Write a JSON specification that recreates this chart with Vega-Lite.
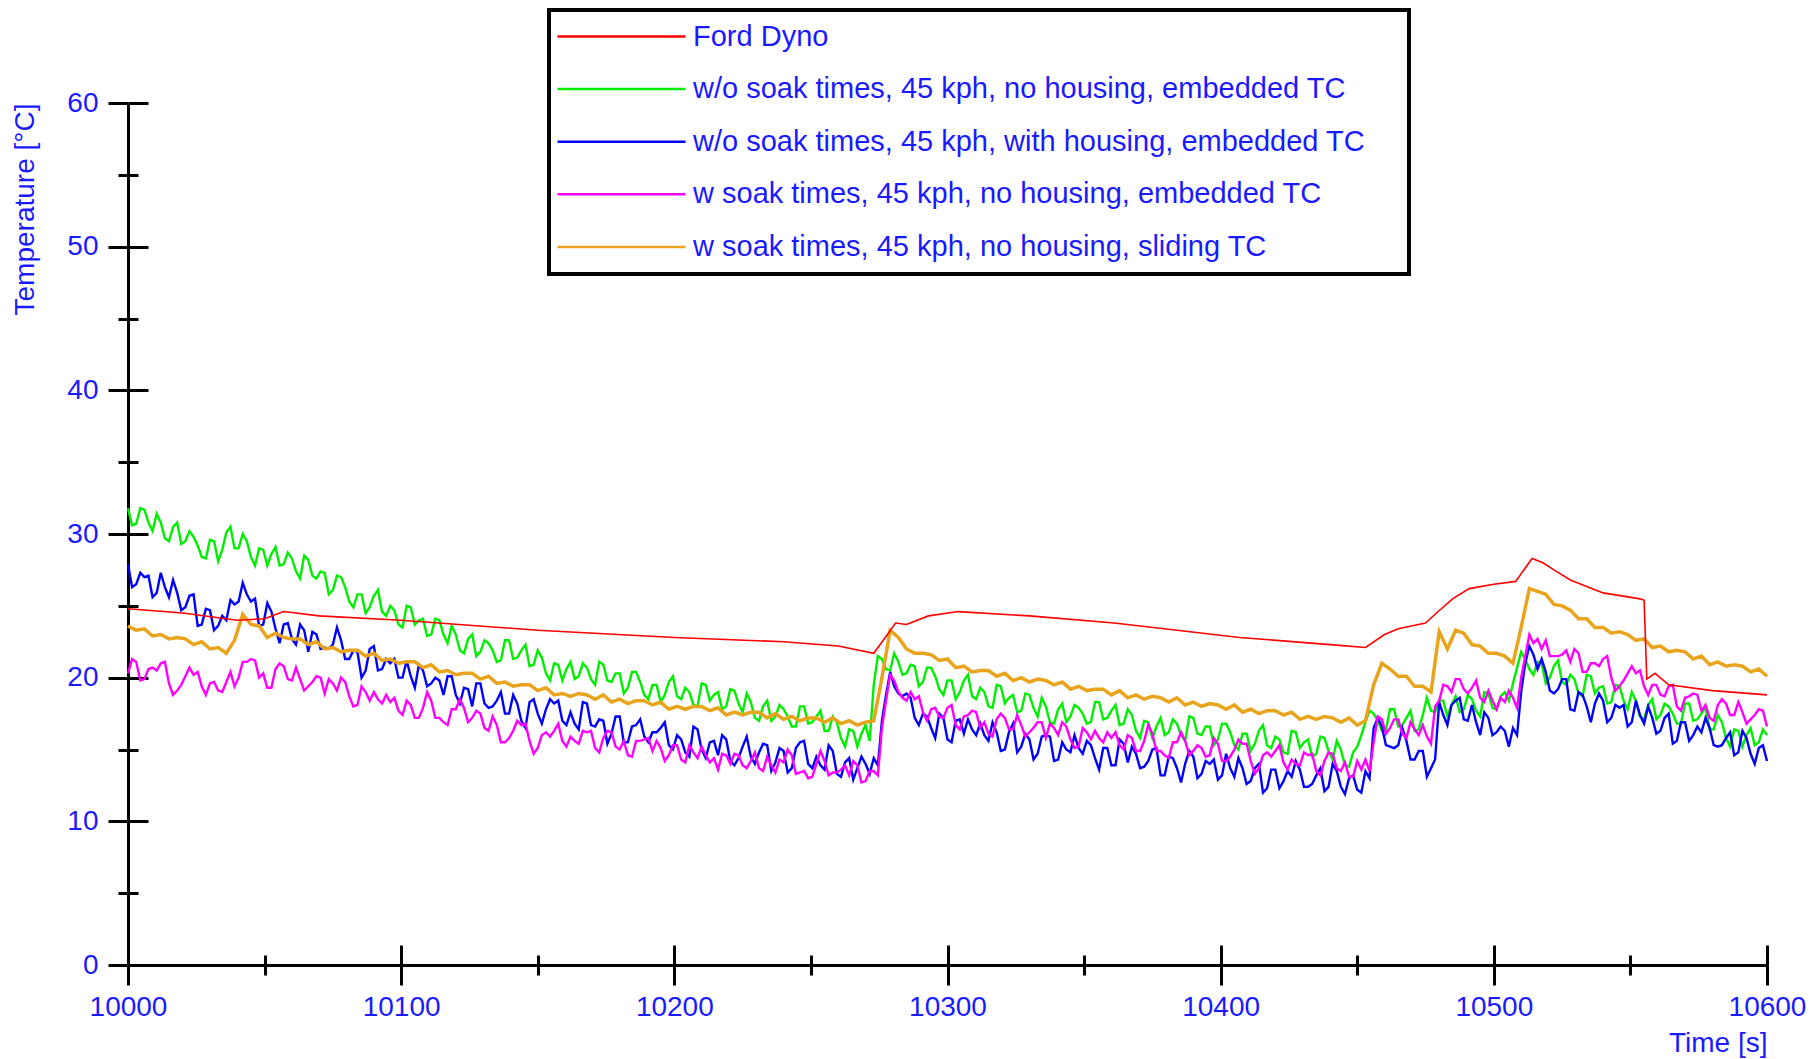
{
"$schema":"https://vega.github.io/schema/vega-lite/v6.json",
"width":1639,"height":862,
"autosize":{"type":"none"},
"padding":{"left":128,"top":103,"right":47,"bottom":94},
"background":"white",
"config":{"font":"Liberation Sans","view":{"stroke":null},"legend":{"strokeWidth":4,"strokeColor":"black","fillColor":"white","cornerRadius":0}},
"datasets":{
"noisy":[
{"t":10000,"g":31.8,"b":27.9,"m":20.3,"o":23.6},{"t":10003,"g":30.7,"b":26.5,"m":21.1,"o":23.3},{"t":10006,"g":31.7,"b":27.0,"m":19.9,"o":23.4},{"t":10009,"g":30.2,"b":25.6,"m":20.7,"o":22.9},{"t":10012,"g":30.8,"b":27.3,"m":21.0,"o":23.0},{"t":10015,"g":29.5,"b":25.6,"m":19.6,"o":22.7},{"t":10018,"g":30.8,"b":25.9,"m":19.1,"o":22.8},{"t":10021,"g":29.5,"b":24.9,"m":20.1,"o":22.7},{"t":10024,"g":29.8,"b":25.8,"m":20.2,"o":22.3},{"t":10027,"g":28.4,"b":23.7,"m":19.4,"o":22.5},
{"t":10030,"g":29.6,"b":24.7,"m":19.6,"o":22.0},{"t":10033,"g":28.1,"b":23.6,"m":19.1,"o":22.1},{"t":10036,"g":30.1,"b":24.0,"m":19.7,"o":21.7},{"t":10039,"g":29.0,"b":25.1,"m":19.4,"o":22.6},{"t":10042,"g":30.0,"b":26.6,"m":21.1,"o":24.4},{"t":10045,"g":28.4,"b":25.3,"m":21.3,"o":23.7},{"t":10048,"g":29.0,"b":23.6,"m":20.0,"o":23.6},{"t":10051,"g":27.8,"b":25.2,"m":19.3,"o":22.8},{"t":10054,"g":29.1,"b":23.4,"m":20.6,"o":23.1},{"t":10057,"g":27.9,"b":23.7,"m":20.8,"o":22.8},
{"t":10060,"g":28.3,"b":22.7,"m":19.8,"o":22.7},{"t":10063,"g":26.9,"b":23.7,"m":19.9,"o":22.7},{"t":10066,"g":28.2,"b":21.8,"m":19.4,"o":22.3},{"t":10069,"g":26.9,"b":23.0,"m":20.1,"o":22.5},{"t":10072,"g":27.3,"b":22.1,"m":18.9,"o":22.0},{"t":10075,"g":26.1,"b":22.3,"m":19.6,"o":22.1},{"t":10078,"g":27.0,"b":22.6,"m":20.0,"o":21.8},{"t":10081,"g":25.3,"b":21.3,"m":18.7,"o":21.9},{"t":10084,"g":25.8,"b":21.8,"m":18.1,"o":21.9},{"t":10087,"g":24.5,"b":20.5,"m":19.0,"o":21.5},
{"t":10090,"g":25.7,"b":22.2,"m":19.0,"o":21.7},{"t":10093,"g":24.6,"b":20.6,"m":18.2,"o":21.2},{"t":10096,"g":25.0,"b":21.0,"m":18.3,"o":21.3},{"t":10099,"g":23.7,"b":20.0,"m":17.7,"o":21.0},{"t":10102,"g":25.0,"b":21.2,"m":18.4,"o":21.1},{"t":10105,"g":23.7,"b":19.3,"m":17.2,"o":21.1},{"t":10108,"g":24.1,"b":20.5,"m":17.9,"o":20.7},{"t":10111,"g":23.0,"b":19.6,"m":18.4,"o":20.9},{"t":10114,"g":24.0,"b":19.8,"m":17.2,"o":20.4},{"t":10117,"g":22.4,"b":20.1,"m":16.7,"o":20.5},
{"t":10120,"g":23.0,"b":18.8,"m":17.8,"o":20.2},{"t":10123,"g":21.7,"b":19.3,"m":17.9,"o":20.3},{"t":10126,"g":23.0,"b":18.0,"m":17.2,"o":20.3},{"t":10129,"g":21.8,"b":19.6,"m":17.5,"o":19.9},{"t":10132,"g":22.4,"b":17.9,"m":16.3,"o":20.1},{"t":10135,"g":21.1,"b":18.4,"m":16.7,"o":19.6},{"t":10138,"g":22.6,"b":17.5,"m":15.5,"o":19.7},{"t":10141,"g":21.3,"b":18.8,"m":16.3,"o":19.4},{"t":10144,"g":21.9,"b":17.0,"m":16.7,"o":19.5},{"t":10147,"g":20.8,"b":18.3,"m":15.6,"o":19.5},
{"t":10150,"g":21.9,"b":17.5,"m":15.1,"o":19.1},{"t":10153,"g":20.3,"b":17.8,"m":16.2,"o":19.3},{"t":10156,"g":21.0,"b":18.2,"m":16.3,"o":18.8},{"t":10159,"g":19.8,"b":17.0,"m":15.6,"o":18.9},{"t":10162,"g":21.1,"b":17.6,"m":15.9,"o":18.7},{"t":10165,"g":20.1,"b":16.4,"m":15.4,"o":18.9},{"t":10168,"g":20.7,"b":18.2,"m":16.2,"o":18.8},{"t":10171,"g":19.5,"b":16.6,"m":15.1,"o":18.5},{"t":10174,"g":20.9,"b":17.0,"m":15.8,"o":18.8},{"t":10177,"g":19.7,"b":16.1,"m":16.2,"o":18.3},
{"t":10180,"g":20.3,"b":17.3,"m":15.0,"o":18.5},{"t":10183,"g":19.3,"b":15.5,"m":14.6,"o":18.2},{"t":10186,"g":20.4,"b":16.7,"m":15.6,"o":18.4},{"t":10189,"g":18.8,"b":15.9,"m":15.7,"o":18.4},{"t":10192,"g":19.5,"b":16.2,"m":14.9,"o":18.1},{"t":10195,"g":18.3,"b":16.5,"m":15.1,"o":18.3},{"t":10198,"g":19.7,"b":15.3,"m":14.6,"o":17.8},{"t":10201,"g":18.7,"b":16.0,"m":15.3,"o":18.0},{"t":10204,"g":19.3,"b":14.8,"m":14.1,"o":17.8},{"t":10207,"g":18.1,"b":16.6,"m":14.8,"o":18.0},
{"t":10210,"g":19.6,"b":15.0,"m":15.2,"o":18.0},{"t":10213,"g":18.4,"b":15.5,"m":14.1,"o":17.7},{"t":10216,"g":19.0,"b":14.6,"m":13.6,"o":17.9},{"t":10219,"g":18.0,"b":15.7,"m":14.6,"o":17.4},{"t":10222,"g":19.1,"b":13.9,"m":14.7,"o":17.6},{"t":10225,"g":17.6,"b":15.2,"m":13.9,"o":17.4},{"t":10228,"g":18.3,"b":14.5,"m":14.2,"o":17.6},{"t":10231,"g":17.0,"b":14.8,"m":13.7,"o":17.6},{"t":10234,"g":18.4,"b":15.3,"m":14.5,"o":17.2},{"t":10237,"g":17.3,"b":14.1,"m":13.4,"o":17.5},
{"t":10240,"g":17.8,"b":14.9,"m":14.1,"o":17.1},{"t":10243,"g":16.6,"b":13.7,"m":14.6,"o":17.3},{"t":10246,"g":18.0,"b":15.5,"m":13.4,"o":17.0},{"t":10249,"g":16.8,"b":14.0,"m":13.0,"o":17.2},{"t":10252,"g":17.3,"b":14.5,"m":14.0,"o":17.2},{"t":10255,"g":16.3,"b":13.6,"m":14.2,"o":16.9},{"t":10258,"g":17.3,"b":14.9,"m":13.4,"o":17.2},{"t":10261,"g":15.8,"b":13.1,"m":13.6,"o":16.8},{"t":10264,"g":16.4,"b":14.4,"m":13.2,"o":17.0},{"t":10267,"g":15.2,"b":13.7,"m":13.9,"o":16.7},
{"t":10270,"g":16.7,"b":14.0,"m":12.8,"o":16.9},{"t":10273,"g":19.5,"b":14.4,"m":13.5,"o":17.0},{"t":10276,"g":21.3,"b":17.0,"m":16.5,"o":20.0},{"t":10279,"g":20.5,"b":20.4,"m":20.2,"o":23.3},{"t":10282,"g":21.1,"b":18.9,"m":19.0,"o":22.8},{"t":10285,"g":20.3,"b":18.9,"m":18.4,"o":22.0},{"t":10288,"g":20.8,"b":17.2,"m":18.5,"o":21.7},{"t":10291,"g":19.7,"b":17.5,"m":17.6,"o":21.7},{"t":10294,"g":20.7,"b":16.5,"m":17.8,"o":21.6},{"t":10297,"g":19.2,"b":17.5,"m":17.3,"o":21.2},
{"t":10300,"g":19.8,"b":15.7,"m":17.9,"o":21.3},{"t":10303,"g":18.5,"b":17.0,"m":16.7,"o":20.7},{"t":10306,"g":19.8,"b":16.1,"m":17.3,"o":20.8},{"t":10309,"g":18.7,"b":16.4,"m":17.7,"o":20.4},{"t":10312,"g":19.3,"b":16.8,"m":16.5,"o":20.5},{"t":10315,"g":18.0,"b":15.6,"m":16.1,"o":20.5},{"t":10318,"g":19.5,"b":16.2,"m":17.1,"o":20.1},{"t":10321,"g":18.2,"b":15.0,"m":17.2,"o":20.3},{"t":10324,"g":18.8,"b":16.8,"m":16.4,"o":19.8},{"t":10327,"g":17.7,"b":15.2,"m":16.7,"o":20.0},
{"t":10330,"g":18.8,"b":15.7,"m":16.2,"o":19.7},{"t":10333,"g":17.3,"b":14.7,"m":16.9,"o":19.9},{"t":10336,"g":18.0,"b":16.0,"m":15.8,"o":19.8},{"t":10339,"g":16.8,"b":14.2,"m":16.5,"o":19.5},{"t":10342,"g":18.2,"b":15.5,"m":16.9,"o":19.7},{"t":10345,"g":17.3,"b":14.8,"m":15.7,"o":19.2},{"t":10348,"g":17.9,"b":15.1,"m":15.2,"o":19.4},{"t":10351,"g":16.8,"b":15.6,"m":16.2,"o":19.1},{"t":10354,"g":18.3,"b":14.4,"m":16.3,"o":19.2},{"t":10357,"g":17.1,"b":15.1,"m":15.5,"o":19.2},
{"t":10360,"g":17.7,"b":13.9,"m":15.8,"o":18.8},{"t":10363,"g":16.7,"b":15.7,"m":15.3,"o":19.1},{"t":10366,"g":17.8,"b":14.1,"m":16.0,"o":18.6},{"t":10369,"g":16.3,"b":14.7,"m":14.9,"o":18.8},{"t":10372,"g":17.0,"b":13.8,"m":15.6,"o":18.5},{"t":10375,"g":15.8,"b":15.0,"m":16.1,"o":18.7},{"t":10378,"g":17.2,"b":13.2,"m":14.9,"o":18.6},{"t":10381,"g":16.2,"b":14.5,"m":14.4,"o":18.3},{"t":10384,"g":16.8,"b":13.7,"m":15.5,"o":18.6},{"t":10387,"g":15.6,"b":14.0,"m":15.6,"o":18.1},
{"t":10390,"g":17.2,"b":14.5,"m":14.9,"o":18.3},{"t":10393,"g":16.0,"b":13.3,"m":15.1,"o":18.0},{"t":10396,"g":16.6,"b":14.0,"m":14.6,"o":18.2},{"t":10399,"g":15.7,"b":12.9,"m":15.4,"o":18.1},{"t":10402,"g":16.8,"b":14.7,"m":14.2,"o":17.8},{"t":10405,"g":15.3,"b":13.1,"m":15.0,"o":18.1},{"t":10408,"g":16.1,"b":13.7,"m":15.4,"o":17.6},{"t":10411,"g":14.9,"b":12.8,"m":14.2,"o":17.8},{"t":10414,"g":16.3,"b":14.0,"m":13.7,"o":17.5},{"t":10417,"g":15.3,"b":12.3,"m":14.8,"o":17.7},
{"t":10420,"g":15.9,"b":13.6,"m":14.9,"o":17.7},{"t":10423,"g":14.8,"b":12.8,"m":14.1,"o":17.4},{"t":10426,"g":16.3,"b":13.1,"m":14.3,"o":17.6},{"t":10429,"g":15.1,"b":13.6,"m":13.9,"o":17.1},{"t":10432,"g":15.7,"b":12.4,"m":14.6,"o":17.3},{"t":10435,"g":14.7,"b":13.2,"m":13.5,"o":17.1},{"t":10438,"g":15.8,"b":12.1,"m":14.2,"o":17.3},{"t":10441,"g":14.3,"b":14.0,"m":14.7,"o":17.2},{"t":10444,"g":15.0,"b":12.4,"m":13.5,"o":16.9},{"t":10447,"g":13.8,"b":13.0,"m":13.1,"o":17.2},
{"t":10450,"g":15.2,"b":12.2,"m":14.2,"o":16.7},{"t":10453,"g":16.9,"b":13.5,"m":14.3,"o":17.0},{"t":10456,"g":17.5,"b":16.5,"m":15.5,"o":19.5},{"t":10459,"g":16.3,"b":16.6,"m":17.1,"o":21.0},{"t":10462,"g":17.8,"b":15.2,"m":16.5,"o":20.6},{"t":10465,"g":16.6,"b":15.3,"m":17.1,"o":20.1},{"t":10468,"g":17.2,"b":15.6,"m":15.8,"o":20.1},{"t":10471,"g":16.3,"b":14.3,"m":16.4,"o":19.4},{"t":10474,"g":17.4,"b":14.9,"m":16.7,"o":19.4},{"t":10477,"g":17.7,"b":13.7,"m":15.4,"o":19.0},
{"t":10480,"g":18.4,"b":18.3,"m":18.4,"o":23.2},{"t":10483,"g":17.3,"b":16.7,"m":19.4,"o":22.0},{"t":10486,"g":18.7,"b":18.4,"m":19.9,"o":23.3},{"t":10489,"g":17.8,"b":17.1,"m":19.2,"o":23.1},{"t":10492,"g":18.5,"b":18.1,"m":19.3,"o":22.3},{"t":10495,"g":17.3,"b":16.0,"m":18.6,"o":22.2},{"t":10498,"g":18.9,"b":17.2,"m":19.1,"o":21.7},{"t":10501,"g":17.8,"b":16.2,"m":17.8,"o":21.7},{"t":10504,"g":19.0,"b":16.3,"m":18.3,"o":21.5},{"t":10507,"g":19.6,"b":16.5,"m":18.6,"o":21.0},
{"t":10510,"g":21.8,"b":19.0,"m":20.0,"o":23.5},{"t":10513,"g":20.6,"b":22.2,"m":23.0,"o":26.2},{"t":10516,"g":21.1,"b":20.6,"m":22.7,"o":26.0},{"t":10519,"g":19.6,"b":20.4,"m":22.6,"o":25.8},{"t":10522,"g":20.8,"b":18.9,"m":21.5,"o":25.1},{"t":10525,"g":19.7,"b":19.9,"m":21.6,"o":25.0},{"t":10528,"g":20.2,"b":17.8,"m":21.1,"o":24.7},{"t":10531,"g":18.9,"b":19.0,"m":21.7,"o":24.1},{"t":10534,"g":20.2,"b":18.0,"m":20.4,"o":24.1},{"t":10537,"g":18.9,"b":18.2,"m":21.0,"o":23.5},
{"t":10540,"g":19.4,"b":18.4,"m":21.3,"o":23.5},{"t":10543,"g":18.3,"b":17.2,"m":20.0,"o":23.1},{"t":10546,"g":19.4,"b":17.9,"m":19.4,"o":23.2},{"t":10549,"g":17.8,"b":16.6,"m":20.3,"o":23.0},{"t":10552,"g":18.4,"b":18.4,"m":20.3,"o":22.6},{"t":10555,"g":17.1,"b":16.8,"m":19.4,"o":22.7},{"t":10558,"g":18.5,"b":17.2,"m":19.5,"o":22.1},{"t":10561,"g":17.4,"b":16.3,"m":18.8,"o":22.2},{"t":10564,"g":18.0,"b":17.5,"m":19.4,"o":21.8},{"t":10567,"g":16.8,"b":15.6,"m":18.0,"o":21.9},
{"t":10570,"g":18.2,"b":16.9,"m":18.6,"o":21.8},{"t":10573,"g":17.0,"b":16.0,"m":18.9,"o":21.3},{"t":10576,"g":17.5,"b":16.2,"m":17.7,"o":21.5},{"t":10579,"g":16.4,"b":16.5,"m":17.2,"o":20.9},{"t":10582,"g":17.4,"b":15.2,"m":18.1,"o":21.1},{"t":10585,"g":15.8,"b":15.8,"m":18.2,"o":20.8},{"t":10588,"g":16.4,"b":14.6,"m":17.4,"o":20.9},{"t":10591,"g":15.2,"b":16.3,"m":17.6,"o":20.8},{"t":10594,"g":16.5,"b":14.7,"m":17.1,"o":20.4},{"t":10597,"g":15.5,"b":15.1,"m":17.8,"o":20.6},
{"t":10600,"g":16.0,"b":14.2,"m":16.6,"o":20.1},
{"t":10001.5,"g":30.6,"b":26.3,"m":21.3},{"t":10004.5,"g":31.8,"b":27.3,"m":19.8},{"t":10007.5,"g":30.8,"b":27.1,"m":20.6},{"t":10010.5,"g":31.4,"b":25.9,"m":20.5},{"t":10013.5,"g":29.7,"b":26.3,"m":21.1},{"t":10016.5,"g":30.5,"b":26.8,"m":18.8},{"t":10019.5,"g":29.3,"b":24.7,"m":19.5},{"t":10022.5,"g":30.2,"b":25.7,"m":20.7},{"t":10025.5,"g":29.2,"b":23.6,"m":20.4},{"t":10028.5,"g":28.3,"b":24.8,"m":18.8},
{"t":10031.5,"g":29.5,"b":23.3,"m":19.7},{"t":10034.5,"g":28.9,"b":24.3,"m":19.0},{"t":10037.5,"g":30.5,"b":25.4,"m":20.4},{"t":10040.5,"g":29.0,"b":25.3,"m":20.0},{"t":10043.5,"g":29.5,"b":25.8,"m":21.1},{"t":10046.5,"g":27.8,"b":25.5,"m":21.2},{"t":10049.5,"g":28.9,"b":23.7,"m":20.3},{"t":10052.5,"g":28.6,"b":24.6,"m":19.3},{"t":10055.5,"g":27.8,"b":22.4,"m":21.0},{"t":10058.5,"g":28.7,"b":23.8,"m":19.9},
{"t":10061.5,"g":27.4,"b":22.3,"m":20.7},{"t":10064.5,"g":28.5,"b":23.3,"m":19.1},{"t":10067.5,"g":27.1,"b":23.2,"m":19.7},{"t":10070.5,"g":27.4,"b":22.0,"m":20.0},{"t":10073.5,"g":25.8,"b":22.0,"m":19.9},{"t":10076.5,"g":27.1,"b":23.5,"m":19.1},{"t":10079.5,"g":26.3,"b":21.3,"m":19.7},{"t":10082.5,"g":24.9,"b":21.9,"m":18.0},{"t":10085.5,"g":25.8,"b":20.0,"m":19.4},{"t":10088.5,"g":24.9,"b":22.0,"m":18.4},
{"t":10091.5,"g":26.1,"b":20.5,"m":18.5},{"t":10094.5,"g":24.3,"b":21.3,"m":18.8},{"t":10097.5,"g":24.7,"b":21.3,"m":18.6},{"t":10100.5,"g":23.5,"b":20.0,"m":17.4},{"t":10103.5,"g":24.9,"b":20.1,"m":18.1},{"t":10106.5,"g":24.0,"b":20.9,"m":17.2},{"t":10109.5,"g":22.9,"b":19.4,"m":19.0},{"t":10112.5,"g":24.1,"b":20.0,"m":17.2},{"t":10115.5,"g":23.0,"b":18.8,"m":16.9},{"t":10118.5,"g":23.6,"b":20.1,"m":17.8},
{"t":10121.5,"g":21.9,"b":18.2,"m":18.5},{"t":10124.5,"g":22.7,"b":19.2,"m":16.9},{"t":10127.5,"g":21.5,"b":19.6,"m":17.7},{"t":10130.5,"g":22.6,"b":18.2,"m":16.5},{"t":10133.5,"g":21.9,"b":18.0,"m":17.3},{"t":10136.5,"g":21.2,"b":19.0,"m":15.5},{"t":10139.5,"g":22.6,"b":17.5,"m":15.8},{"t":10142.5,"g":21.4,"b":18.2,"m":17.0},{"t":10145.5,"g":22.3,"b":16.5,"m":16.8},{"t":10148.5,"g":20.9,"b":18.5,"m":14.7},
{"t":10151.5,"g":21.4,"b":16.8,"m":16.0},{"t":10154.5,"g":19.8,"b":18.5,"m":15.9},{"t":10157.5,"g":20.9,"b":18.4,"m":16.8},{"t":10160.5,"g":20.6,"b":16.7,"m":15.2},{"t":10163.5,"g":19.9,"b":16.8,"m":15.6},{"t":10166.5,"g":21.0,"b":18.3,"m":16.3},{"t":10169.5,"g":19.9,"b":16.7,"m":16.3},{"t":10172.5,"g":21.1,"b":17.1,"m":14.8},{"t":10175.5,"g":19.8,"b":15.4,"m":16.3},{"t":10178.5,"g":20.3,"b":17.3,"m":15.2},
{"t":10181.5,"g":18.9,"b":15.5,"m":15.6},{"t":10184.5,"g":20.4,"b":16.6,"m":14.5},{"t":10187.5,"g":19.7,"b":17.1,"m":15.6},{"t":10190.5,"g":18.5,"b":15.5,"m":15.8},{"t":10193.5,"g":19.5,"b":16.2,"m":15.6},{"t":10196.5,"g":18.8,"b":16.9,"m":14.2},{"t":10199.5,"g":20.1,"b":15.0,"m":15.3},{"t":10202.5,"g":18.5,"b":15.7,"m":14.3},{"t":10205.5,"g":19.0,"b":14.5,"m":15.3},{"t":10208.5,"g":18.0,"b":16.4,"m":14.4},
{"t":10211.5,"g":19.5,"b":14.4,"m":14.6},{"t":10214.5,"g":18.8,"b":15.6,"m":14.4},{"t":10217.5,"g":17.8,"b":16.0,"m":14.7},{"t":10220.5,"g":19.2,"b":14.2,"m":14.0},{"t":10223.5,"g":18.2,"b":14.4,"m":14.6},{"t":10226.5,"g":18.9,"b":15.9,"m":13.7},{"t":10229.5,"g":17.2,"b":14.0,"m":14.8},{"t":10232.5,"g":18.0,"b":15.4,"m":13.5},{"t":10235.5,"g":17.0,"b":13.5,"m":13.9},{"t":10238.5,"g":18.1,"b":15.1,"m":14.3},
{"t":10241.5,"g":17.3,"b":13.4,"m":15.0},{"t":10244.5,"g":16.6,"b":15.1,"m":13.3},{"t":10247.5,"g":18.0,"b":15.6,"m":13.5},{"t":10250.5,"g":16.9,"b":13.7,"m":13.1},{"t":10253.5,"g":17.7,"b":13.9,"m":14.9},{"t":10256.5,"g":16.3,"b":15.3,"m":13.2},{"t":10259.5,"g":16.9,"b":13.3,"m":13.4},{"t":10262.5,"g":15.2,"b":14.1,"m":13.9},{"t":10265.5,"g":16.3,"b":12.9,"m":14.2},{"t":10268.5,"g":16.1,"b":14.5,"m":12.7},
{"t":10271.5,"g":15.6,"b":13.3,"m":13.5},{"t":10274.5,"g":21.5,"b":13.9,"m":13.2},{"t":10277.5,"g":20.6,"b":18.8,"m":18.4},{"t":10280.5,"g":21.7,"b":19.4,"m":19.8},{"t":10283.5,"g":20.2,"b":18.7,"m":18.6},{"t":10286.5,"g":20.9,"b":18.6,"m":19.0},{"t":10289.5,"g":19.4,"b":16.7,"m":18.7},{"t":10292.5,"g":20.7,"b":17.3,"m":17.0},{"t":10295.5,"g":20.1,"b":15.8,"m":17.9},{"t":10298.5,"g":18.8,"b":17.2,"m":17.2},
{"t":10301.5,"g":19.8,"b":15.5,"m":18.1},{"t":10304.5,"g":19.0,"b":17.1,"m":16.4},{"t":10307.5,"g":20.2,"b":17.1,"m":17.4},{"t":10310.5,"g":18.5,"b":16.0,"m":17.6},{"t":10313.5,"g":19.0,"b":16.0,"m":16.9},{"t":10316.5,"g":17.9,"b":16.9,"m":15.9},{"t":10319.5,"g":19.4,"b":14.9,"m":17.5},{"t":10322.5,"g":18.6,"b":16.2,"m":16.4},{"t":10325.5,"g":17.6,"b":14.8,"m":17.4},{"t":10328.5,"g":18.9,"b":16.1,"m":15.9},
{"t":10331.5,"g":17.9,"b":14.3,"m":16.5},{"t":10334.5,"g":18.6,"b":15.9,"m":16.9},{"t":10337.5,"g":16.9,"b":15.9,"m":16.8},{"t":10340.5,"g":17.8,"b":14.3,"m":16.0},{"t":10343.5,"g":16.9,"b":15.0,"m":16.6},{"t":10346.5,"g":18.1,"b":16.0,"m":15.1},{"t":10349.5,"g":17.5,"b":14.7,"m":16.5},{"t":10352.5,"g":16.9,"b":15.3,"m":15.7},{"t":10355.5,"g":18.3,"b":13.6,"m":15.8},{"t":10358.5,"g":17.2,"b":15.1,"m":16.2},
{"t":10361.5,"g":18.1,"b":13.9,"m":16.2},{"t":10364.5,"g":16.8,"b":15.4,"m":15.0},{"t":10367.5,"g":17.4,"b":15.2,"m":15.8},{"t":10370.5,"g":15.8,"b":13.7,"m":14.9},{"t":10373.5,"g":16.9,"b":14.2,"m":16.7},{"t":10376.5,"g":16.6,"b":15.1,"m":14.9},{"t":10379.5,"g":16.0,"b":13.2,"m":14.6},{"t":10382.5,"g":17.1,"b":14.4,"m":15.5},{"t":10385.5,"g":16.0,"b":12.7,"m":16.2},{"t":10388.5,"g":17.3,"b":14.9,"m":14.6},
{"t":10391.5,"g":16.1,"b":13.0,"m":15.3},{"t":10394.5,"g":16.6,"b":14.2,"m":14.5},{"t":10397.5,"g":15.3,"b":14.3,"m":15.8},{"t":10400.5,"g":16.8,"b":13.2,"m":14.2},{"t":10403.5,"g":16.2,"b":13.7,"m":14.5},{"t":10406.5,"g":15.0,"b":14.4,"m":15.7},{"t":10409.5,"g":16.1,"b":12.6,"m":15.4},{"t":10412.5,"g":15.4,"b":13.7,"m":13.3},{"t":10415.5,"g":16.7,"b":12.0,"m":14.6},{"t":10418.5,"g":15.1,"b":13.6,"m":14.5},
{"t":10421.5,"g":15.7,"b":12.3,"m":15.3},{"t":10424.5,"g":14.7,"b":13.5,"m":13.6},{"t":10427.5,"g":16.2,"b":14.2,"m":14.0},{"t":10430.5,"g":15.5,"b":12.4,"m":14.8},{"t":10433.5,"g":14.5,"b":12.6,"m":14.7},{"t":10436.5,"g":15.9,"b":13.7,"m":13.2},{"t":10439.5,"g":14.9,"b":12.4,"m":14.8},{"t":10442.5,"g":15.6,"b":13.5,"m":13.7},{"t":10445.5,"g":13.9,"b":11.9,"m":14.1},{"t":10448.5,"g":14.8,"b":13.2,"m":13.1},
{"t":10451.5,"g":16.0,"b":12.0,"m":13.6},{"t":10454.5,"g":17.7,"b":13.0,"m":13.5},{"t":10457.5,"g":17.0,"b":17.2,"m":17.3},{"t":10460.5,"g":16.4,"b":15.3,"m":16.1},{"t":10463.5,"g":17.8,"b":15.1,"m":17.1},{"t":10466.5,"g":16.7,"b":16.5,"m":16.1},{"t":10469.5,"g":17.7,"b":14.3,"m":16.9},{"t":10472.5,"g":16.4,"b":14.9,"m":16.0},{"t":10475.5,"g":18.6,"b":13.1,"m":15.9},{"t":10478.5,"g":17.6,"b":14.3,"m":18.0},
{"t":10481.5,"g":18.4,"b":17.4,"m":19.5},{"t":10484.5,"g":18.1,"b":18.1,"m":19.0},{"t":10487.5,"g":17.6,"b":18.6,"m":19.9},{"t":10490.5,"g":18.8,"b":17.0,"m":18.9},{"t":10493.5,"g":17.7,"b":16.9,"m":19.8},{"t":10496.5,"g":19.0,"b":17.6,"m":18.3},{"t":10499.5,"g":17.9,"b":16.0,"m":18.4},{"t":10502.5,"g":18.7,"b":16.6,"m":18.6},{"t":10505.5,"g":18.4,"b":15.2,"m":19.1},{"t":10508.5,"g":20.7,"b":16.0,"m":17.9},
{"t":10511.5,"g":21.3,"b":21.0,"m":21.5},{"t":10514.5,"g":20.2,"b":21.6,"m":22.4},{"t":10517.5,"g":21.0,"b":21.3,"m":22.0},{"t":10520.5,"g":20.0,"b":19.1,"m":21.5},{"t":10523.5,"g":21.2,"b":19.2,"m":21.5},{"t":10526.5,"g":19.5,"b":19.9,"m":21.9},{"t":10529.5,"g":19.9,"b":17.7,"m":22.0},{"t":10532.5,"g":18.7,"b":18.8,"m":20.4},{"t":10535.5,"g":20.1,"b":16.9,"m":21.0},{"t":10538.5,"g":19.3,"b":18.9,"m":20.8},
{"t":10541.5,"g":18.2,"b":16.9,"m":21.5},{"t":10544.5,"g":19.5,"b":18.1,"m":19.1},{"t":10547.5,"g":18.4,"b":18.1,"m":19.8},{"t":10550.5,"g":19.0,"b":16.9,"m":20.8},{"t":10553.5,"g":17.3,"b":17.4,"m":20.5},{"t":10556.5,"g":18.1,"b":18.0,"m":18.8},{"t":10559.5,"g":17.1,"b":16.1,"m":19.5},{"t":10562.5,"g":18.2,"b":17.2,"m":18.7},{"t":10565.5,"g":17.5,"b":15.4,"m":19.5},{"t":10568.5,"g":16.8,"b":16.9,"m":17.7},
{"t":10571.5,"g":18.2,"b":15.6,"m":18.7},{"t":10574.5,"g":17.1,"b":16.6,"m":18.8},{"t":10577.5,"g":17.9,"b":17.2,"m":18.1},{"t":10580.5,"g":16.4,"b":15.3,"m":17.0},{"t":10583.5,"g":16.9,"b":15.3,"m":18.5},{"t":10586.5,"g":15.2,"b":16.2,"m":17.4},{"t":10589.5,"g":16.3,"b":14.8,"m":18.3},{"t":10592.5,"g":16.0,"b":15.8,"m":16.8},{"t":10595.5,"g":15.3,"b":14.0,"m":17.4},{"t":10598.5,"g":16.4,"b":15.3,"m":17.7}
],
"red":[
{"s":"r","t":10000,"v":24.8},{"s":"r","t":10020,"v":24.5},{"s":"r","t":10040,"v":24.0},{"s":"r","t":10050,"v":24.1},{"s":"r","t":10057,"v":24.6},{"s":"r","t":10070,"v":24.3},{"s":"r","t":10100,"v":24.0},{"s":"r","t":10150,"v":23.3},{"s":"r","t":10200,"v":22.8},{"s":"r","t":10240,"v":22.5},{"s":"r","t":10260,"v":22.2},{"s":"r","t":10273,"v":21.7},{"s":"r","t":10278,"v":23.0},{"s":"r","t":10281,"v":23.8},{"s":"r","t":10285,"v":23.7},{"s":"r","t":10293,"v":24.3},{"s":"r","t":10304,"v":24.6},{"s":"r","t":10330,"v":24.3},{"s":"r","t":10361,"v":23.8},{"s":"r","t":10407,"v":22.8},{"s":"r","t":10440,"v":22.3},{"s":"r","t":10453,"v":22.1},{"s":"r","t":10460,"v":23.0},{"s":"r","t":10465,"v":23.4},{"s":"r","t":10475,"v":23.8},{"s":"r","t":10479,"v":24.5},{"s":"r","t":10485,"v":25.5},{"s":"r","t":10491,"v":26.2},{"s":"r","t":10500,"v":26.5},{"s":"r","t":10508,"v":26.7},{"s":"r","t":10514,"v":28.3},{"s":"r","t":10518,"v":28.0},{"s":"r","t":10522,"v":27.5},{"s":"r","t":10528,"v":26.8},{"s":"r","t":10540,"v":25.9},{"s":"r","t":10553,"v":25.5},{"s":"r","t":10555,"v":25.4},{"s":"r","t":10556,"v":19.9},{"s":"r","t":10559,"v":20.3},{"s":"r","t":10564,"v":19.5},{"s":"r","t":10580,"v":19.1},{"s":"r","t":10600,"v":18.8}
]
},
"resolve":{"axis":{"x":"independent","y":"independent"}},
"layer":[
{
"data":{"name":"noisy"},
"transform":[{"fold":["g","b","m"],"as":["s","v"]},{"filter":"isValid(datum.v)"}],
"mark":{"type":"line","strokeWidth":2.4},
"encoding":{
"x":{"field":"t","type":"quantitative","scale":{"domain":[10000,10600],"nice":false,"zero":false},
"axis":{"orient":"bottom","values":[10000,10100,10200,10300,10400,10500,10600],"format":"d","tickSize":20,"tickWidth":3,"tickColor":"black","domainColor":"black","domainWidth":3,"labelFontSize":28,"labelColor":"#1a1aff","labelPadding":8,"labelFlush":false,"labelOverlap":false,"grid":true,"gridColor":"black","gridWidth":3,"gridDash":[20,4000],"gridDashOffset":-842,"title":"Time [s]","titleFontSize":28,"titleFontWeight":"normal","titleColor":"#1a1aff","titleAnchor":"end","titleAlign":"right","titleBaseline":"alphabetic","titleX":1639,"titleY":86}},
"y":{"field":"v","type":"quantitative","scale":{"domain":[0,60],"nice":false,"zero":true},
"axis":{"orient":"left","values":[0,10,20,30,40,50,60],"tickSize":20,"tickWidth":3,"tickColor":"black","domainColor":"black","domainWidth":3,"labelFontSize":28,"labelColor":"#1a1aff","labelPadding":10,"labelFlush":false,"labelOverlap":false,"grid":true,"gridColor":"black","gridWidth":3,"gridDash":[20,4000],"title":"Temperature [°C]","titleFontSize":28,"titleFontWeight":"normal","titleColor":"#1a1aff","titleAngle":270,"titleAlign":"right","titleBaseline":"middle","titleX":-103,"titleY":0}},
"color":{"field":"s","type":"nominal","scale":{"domain":["r","g","b","m","o"],"range":["#ff0000","#00ee00","#0000ff","#ff00ff","#e8a41c"]},
"legend":{"orient":"none","legendX":421,"legendY":-93,"title":null,"direction":"vertical","symbolType":"M-2.25,0H13.75M102,0","symbolSize":256,"symbolStrokeWidth":2.5,"labelFont":"Liberation Sans","labelFontSize":29,"labelColor":"#1a1aff","labelLimit":2000,"labelOffset":103,"rowPadding":22.6,"padding":12,
"labelExpr":"datum.value=='r'?'Ford Dyno':datum.value=='g'?'w/o soak times, 45 kph, no housing, embedded TC':datum.value=='b'?'w/o soak times, 45 kph, with housing, embedded TC':datum.value=='m'?'w soak times, 45 kph, no housing, embedded TC':'w soak times, 45 kph, no housing, sliding TC'"}}
}
},
{
"data":{"name":"noisy"},
"transform":[{"fold":["o"],"as":["s","v"]},{"filter":"isValid(datum.v)"}],
"mark":{"type":"line","strokeWidth":3.5},
"encoding":{
"x":{"field":"t","type":"quantitative","axis":null},
"y":{"field":"v","type":"quantitative","axis":null},
"color":{"field":"s","type":"nominal"}
}
},
{
"data":{"name":"red"},
"mark":{"type":"line","strokeWidth":1.6},
"encoding":{
"x":{"field":"t","type":"quantitative","axis":{"orient":"bottom","values":[10050,10150,10250,10350,10450,10550],"tickSize":10,"tickWidth":3,"tickColor":"black","domain":false,"labels":false,"grid":true,"gridColor":"black","gridWidth":3,"gridDash":[10,4000],"gridDashOffset":-852,"title":null}},
"y":{"field":"v","type":"quantitative","axis":{"orient":"left","values":[5,15,25,35,45,55],"tickSize":10,"tickWidth":3,"tickColor":"black","domain":false,"labels":false,"grid":true,"gridColor":"black","gridWidth":3,"gridDash":[10,4000],"title":null}},
"color":{"field":"s","type":"nominal"}
}
}
]
}
